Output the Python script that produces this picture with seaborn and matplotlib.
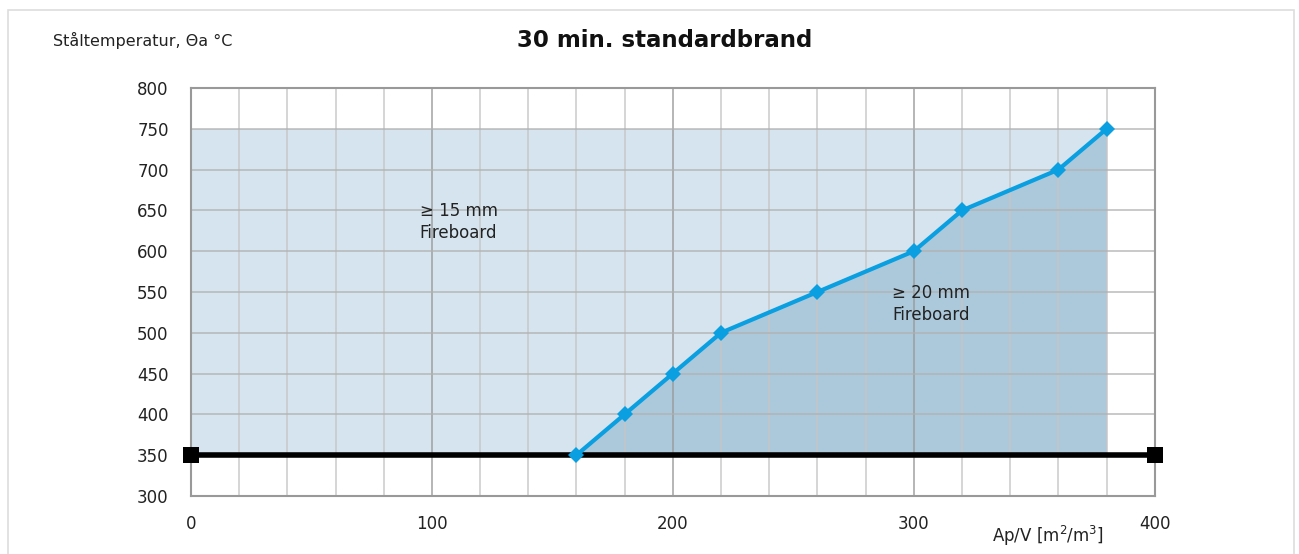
import matplotlib
matplotlib.use("Agg")
import matplotlib.pyplot as plt
import seaborn as sns
import numpy as np
import pandas as pd

# Data
ap_v = [160, 180, 200, 220, 260, 300, 320, 360, 380]
temp = [350, 400, 450, 500, 550, 600, 650, 700, 750]
base_x = [0, 400]
base_y = [350, 350]
area_x = [0, 380]
area_top = 750
area_bottom = 350

x_ticks = [0, 100, 200, 300, 400]
y_ticks = [300, 350, 400, 450, 500, 550, 600, 650, 700, 750, 800]

sns.set_style("white")
plt.rcParams['font.family'] = ['DejaVu Sans']

fig = plt.figure(figsize=(12.99, 5.54), dpi=100)
ax = fig.add_axes([0.147, 0.105, 0.742, 0.736])

light = "#d5e4ee"
dark = "#abc9db"
blue = "#0a9fe0"

# light area (>= 15 mm)
ax.fill_between(area_x, area_bottom, area_top, color=light, lw=0, zorder=1)
# darker area under the curve (>= 20 mm)
ax.fill_between(ap_v, area_bottom, temp, color=dark, lw=0, zorder=1.5)

# grid
for xv in np.arange(0, 401, 20):
    c = "#9a9a9a" if xv % 100 == 0 else "#c6c6c6"
    ax.axvline(xv, color=c, lw=1.2, zorder=2, alpha=0.85)
for yv in y_ticks:
    ax.axhline(yv, color="#b0b0b0", lw=1.2, zorder=2, alpha=0.8)

df_base = pd.DataFrame({"x": base_x, "y": base_y})
sns.lineplot(data=df_base, x="x", y="y", ax=ax, color="black", lw=4,
             marker="s", markersize=12, markeredgewidth=0, zorder=10, clip_on=False)

df_line = pd.DataFrame({"x": ap_v, "y": temp})
sns.lineplot(data=df_line, x="x", y="y", ax=ax, color=blue, lw=3,
             marker="D", markersize=8, markeredgewidth=0, zorder=11, clip_on=False)

ax.set_xlim(0, 400)
ax.set_ylim(300, 800)
ax.set_xticks(x_ticks)
ax.set_yticks(y_ticks)
ax.tick_params(length=0, labelsize=12, colors="#222222", pad=14)
ax.tick_params(axis="y", pad=16)
ax.set_xlabel("")
ax.set_ylabel("")
for s in ax.spines.values():
    s.set_color("#999999")
    s.set_linewidth(1.5)
    s.set_zorder(7)

ax.text(95, 660, "\u2265 15 mm\nFireboard", fontsize=12, color="#222222",
        va="top", linespacing=1.3, zorder=8)
ax.text(291, 560, "\u2265 20 mm\nFireboard", fontsize=12, color="#222222",
        va="top", linespacing=1.3, zorder=8)

fig.text(0.512, 0.927, "30 min. standardbrand", fontsize=16.5, fontweight="bold",
         ha="center", va="center", color="#111111")
fig.text(0.041, 0.927, "St\u00e5ltemperatur, \u0398a \u00b0C", fontsize=11.5,
         ha="left", va="center", color="#222222")
fig.text(0.807, 0.032, "Ap/V [m$^2$/m$^3$]", fontsize=12, ha="center",
         va="center", color="#222222")

# thin frame around the figure
fig.patches.append(plt.Rectangle((0.006, -0.01), 0.99, 0.992, transform=fig.transFigure,
                                 fill=False, edgecolor="#dddddd", lw=1.2))

fig.savefig("out.png", dpi=100)
